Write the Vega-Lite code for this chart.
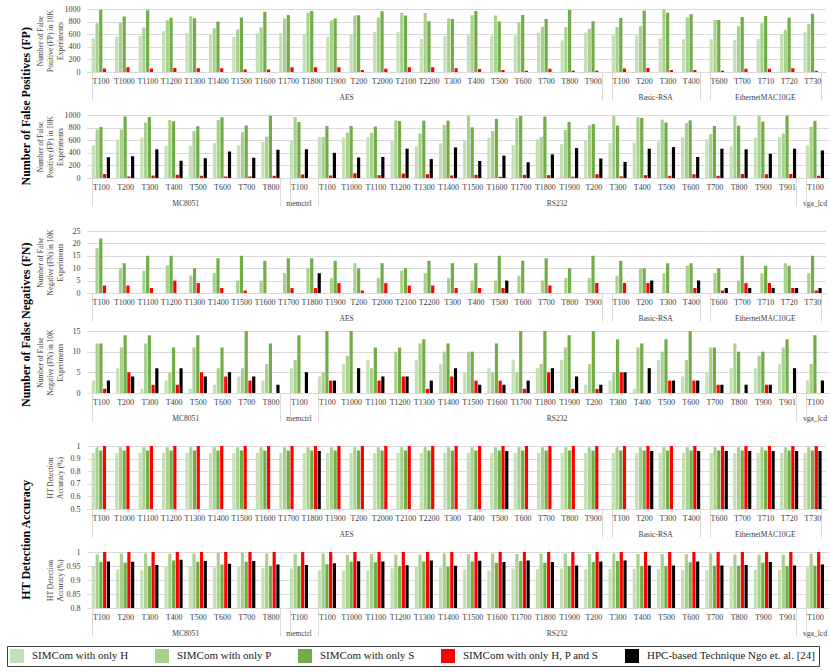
{
"$schema": "https://vega.github.io/schema/vega-lite/v6.json",
"padding": {"left": 6, "top": 5, "right": 4, "bottom": 2},
"background": "white",
"config": {
 "font": "Liberation Serif",
 "view": {"stroke": null},
 "axis": {"labelFont": "Liberation Serif", "titleFont": "Liberation Serif", "labelColor": "#404040", "titleColor": "#404040", "labelFontSize": 8, "titleFontSize": 7.5, "titleFontWeight": "normal", "titleLineHeight": 10},
 "axisX": {"labelAngle": 0, "domainColor": "#d9d9d9", "grid": false, "tickBand": "extent", "tickSize": 28, "labelPadding": -23, "title": null},
 "axisY": {"domain": false, "ticks": false, "gridColor": "#d9d9d9", "labelPadding": 7, "titlePadding": 0, "minExtent": 23, "maxExtent": 23},
 "header": {"labelFont": "Liberation Serif", "labelFontSize": 7.6, "labelColor": "#404040", "labelOrient": "bottom", "labelPadding": -7},
 "legend": {"orient": "none", "legendX": -80, "legendY": 637, "direction": "horizontal", "symbolType": "square", "symbolSize": 196, "labelFont": "Liberation Serif", "labelFontSize": 11, "labelColor": "#202020", "columnPadding": 26, "labelLimit": 400, "strokeColor": "#404040", "padding": 3, "symbolStrokeWidth": 0, "labelOffset": 8},
 "title": {"font": "Liberation Serif", "fontSize": 12, "fontWeight": "bold", "color": "black", "offset": 3}
},
"datasets": {
 "fp1": [
  {"b":"AES","t":"T100","H":530,"P":775,"S":990,"R":55},
  {"b":"AES","t":"T1000","H":565,"P":780,"S":880,"R":75},
  {"b":"AES","t":"T1100","H":570,"P":705,"S":980,"R":55},
  {"b":"AES","t":"T1200","H":650,"P":820,"S":860,"R":65},
  {"b":"AES","t":"T1300","H":620,"P":885,"S":855,"R":60},
  {"b":"AES","t":"T1400","H":600,"P":695,"S":800,"R":60},
  {"b":"AES","t":"T1500","H":555,"P":675,"S":865,"R":40},
  {"b":"AES","t":"T1600","H":615,"P":705,"S":955,"R":40},
  {"b":"AES","t":"T1700","H":620,"P":850,"S":905,"R":75},
  {"b":"AES","t":"T1800","H":605,"P":945,"S":970,"R":75},
  {"b":"AES","t":"T1900","H":560,"P":820,"S":850,"R":75},
  {"b":"AES","t":"T200","H":600,"P":895,"S":900,"R":30},
  {"b":"AES","t":"T2000","H":635,"P":865,"S":965,"R":50},
  {"b":"AES","t":"T2100","H":640,"P":940,"S":895,"R":75},
  {"b":"AES","t":"T2200","H":525,"P":935,"S":805,"R":75},
  {"b":"AES","t":"T300","H":575,"P":850,"S":840,"R":60},
  {"b":"AES","t":"T400","H":590,"P":900,"S":968,"R":47},
  {"b":"AES","t":"T500","H":575,"P":895,"S":800,"R":30},
  {"b":"AES","t":"T600","H":580,"P":795,"S":905,"R":20},
  {"b":"AES","t":"T700","H":625,"P":720,"S":842,"R":50},
  {"b":"AES","t":"T800","H":500,"P":715,"S":985,"R":20},
  {"b":"AES","t":"T900","H":625,"P":685,"S":805,"R":20},
  {"b":"Basic-RSA","t":"T100","H":585,"P":715,"S":858,"R":55},
  {"b":"Basic-RSA","t":"T200","H":580,"P":725,"S":975,"R":65},
  {"b":"Basic-RSA","t":"T300","H":530,"P":1000,"S":940,"R":30},
  {"b":"Basic-RSA","t":"T400","H":520,"P":865,"S":915,"R":30},
  {"b":"EthernetMAC10GE","t":"T600","H":520,"P":825,"S":825,"R":20},
  {"b":"EthernetMAC10GE","t":"T700","H":510,"P":725,"S":875,"R":50},
  {"b":"EthernetMAC10GE","t":"T710","H":525,"P":775,"S":890,"R":50},
  {"b":"EthernetMAC10GE","t":"T720","H":600,"P":670,"S":865,"R":60},
  {"b":"EthernetMAC10GE","t":"T730","H":635,"P":760,"S":925,"R":20}
 ],
 "fp2": [
  {"b":"MC8051","t":"T100","H":520,"P":770,"S":810,"R":65,"K":330},
  {"b":"MC8051","t":"T200","H":605,"P":770,"S":975,"R":25,"K":345},
  {"b":"MC8051","t":"T300","H":640,"P":880,"S":970,"R":40,"K":455},
  {"b":"MC8051","t":"T400","H":510,"P":920,"S":900,"R":50,"K":275},
  {"b":"MC8051","t":"T500","H":510,"P":745,"S":820,"R":35,"K":315},
  {"b":"MC8051","t":"T600","H":555,"P":920,"S":965,"R":25,"K":420},
  {"b":"MC8051","t":"T700","H":520,"P":725,"S":835,"R":25,"K":320},
  {"b":"MC8051","t":"T800","H":570,"P":655,"S":990,"R":35,"K":450},
  {"b":"memctrl","t":"T100","H":590,"P":970,"S":890,"R":55,"K":455},
  {"b":"RS232","t":"T100","H":650,"P":650,"S":825,"R":40,"K":400},
  {"b":"RS232","t":"T1000","H":640,"P":720,"S":825,"R":75,"K":325},
  {"b":"RS232","t":"T1100","H":645,"P":720,"S":815,"R":45,"K":335},
  {"b":"RS232","t":"T1200","H":590,"P":915,"S":905,"R":70,"K":465},
  {"b":"RS232","t":"T1300","H":505,"P":710,"S":910,"R":60,"K":300},
  {"b":"RS232","t":"T1400","H":550,"P":840,"S":910,"R":40,"K":485},
  {"b":"RS232","t":"T1500","H":595,"P":985,"S":805,"R":50,"K":270},
  {"b":"RS232","t":"T1600","H":640,"P":745,"S":940,"R":20,"K":355},
  {"b":"RS232","t":"T1700","H":520,"P":950,"S":985,"R":50,"K":250},
  {"b":"RS232","t":"T1800","H":615,"P":650,"S":975,"R":45,"K":375},
  {"b":"RS232","t":"T1900","H":535,"P":765,"S":890,"R":20,"K":475},
  {"b":"RS232","t":"T200","H":595,"P":835,"S":855,"R":60,"K":310},
  {"b":"RS232","t":"T300","H":555,"P":990,"S":830,"R":25,"K":255},
  {"b":"RS232","t":"T400","H":565,"P":965,"S":955,"R":45,"K":465},
  {"b":"RS232","t":"T500","H":580,"P":925,"S":880,"R":35,"K":490},
  {"b":"RS232","t":"T600","H":645,"P":870,"S":915,"R":60,"K":335},
  {"b":"RS232","t":"T700","H":615,"P":695,"S":825,"R":35,"K":465},
  {"b":"RS232","t":"T800","H":500,"P":990,"S":830,"R":65,"K":455},
  {"b":"RS232","t":"T900","H":640,"P":990,"S":895,"R":60,"K":385},
  {"b":"RS232","t":"T901","H":645,"P":705,"S":990,"R":65,"K":465},
  {"b":"vga_lcd","t":"T100","H":520,"P":815,"S":910,"R":35,"K":435}
 ],
 "fn1": [
  {"b":"AES","t":"T100","P":18,"S":22,"R":3},
  {"b":"AES","t":"T1000","P":10,"S":12,"R":3},
  {"b":"AES","t":"T1100","P":9,"S":15,"R":2},
  {"b":"AES","t":"T1200","P":11,"S":15,"R":5},
  {"b":"AES","t":"T1300","P":7,"S":10,"R":4},
  {"b":"AES","t":"T1400","P":8,"S":14,"R":2},
  {"b":"AES","t":"T1500","P":5,"S":15,"R":1},
  {"b":"AES","t":"T1600","P":5,"S":13,"R":0},
  {"b":"AES","t":"T1700","P":8,"S":14,"R":2},
  {"b":"AES","t":"T1800","P":10,"S":14,"R":2,"K":8},
  {"b":"AES","t":"T1900","P":6,"S":13,"R":4},
  {"b":"AES","t":"T200","P":12,"S":10,"R":1},
  {"b":"AES","t":"T2000","P":6,"S":12,"R":4},
  {"b":"AES","t":"T2100","P":9,"S":10,"R":3},
  {"b":"AES","t":"T2200","P":8,"S":13,"R":3},
  {"b":"AES","t":"T300","P":6,"S":12,"R":2},
  {"b":"AES","t":"T400","P":5,"S":12,"R":2},
  {"b":"AES","t":"T500","P":5,"S":15,"R":2,"K":5},
  {"b":"AES","t":"T600","P":7,"S":13},
  {"b":"AES","t":"T700","P":5,"S":14,"R":3},
  {"b":"AES","t":"T800","P":6,"S":10},
  {"b":"AES","t":"T900","P":6,"S":15,"R":4},
  {"b":"Basic-RSA","t":"T100","P":7,"S":13,"R":4},
  {"b":"Basic-RSA","t":"T200","P":10,"S":10,"R":4,"K":5},
  {"b":"Basic-RSA","t":"T300","P":8,"S":12},
  {"b":"Basic-RSA","t":"T400","P":11,"S":12,"R":2,"K":5},
  {"b":"EthernetMAC10GE","t":"T600","P":8,"S":10,"R":1,"K":2},
  {"b":"EthernetMAC10GE","t":"T700","P":5,"S":15,"R":4,"K":2},
  {"b":"EthernetMAC10GE","t":"T710","P":8,"S":11,"R":4,"K":2},
  {"b":"EthernetMAC10GE","t":"T720","P":12,"S":11,"R":2,"K":2},
  {"b":"EthernetMAC10GE","t":"T730","P":8,"S":15,"R":1,"K":2}
 ],
 "fn2": [
  {"b":"MC8051","t":"T100","H":3,"P":12,"S":12,"R":1,"K":3},
  {"b":"MC8051","t":"T200","H":6,"P":11,"S":14,"R":5,"K":4},
  {"b":"MC8051","t":"T300","H":1,"P":12,"S":14,"R":2,"K":6},
  {"b":"MC8051","t":"T400","H":3,"P":5,"S":11,"R":2,"K":6},
  {"b":"MC8051","t":"T500","H":1,"P":11,"S":14,"R":5,"K":4},
  {"b":"MC8051","t":"T600","H":2,"P":6,"S":11,"R":4,"K":5},
  {"b":"MC8051","t":"T700","H":4,"P":6,"S":15,"R":3,"K":4},
  {"b":"MC8051","t":"T800","H":3,"P":7,"S":12,"R":0,"K":2},
  {"b":"memctrl","t":"T100","H":6,"P":8,"S":14,"R":0,"K":5},
  {"b":"RS232","t":"T100","H":4,"P":5,"S":15,"R":3,"K":3},
  {"b":"RS232","t":"T1000","H":7,"P":9,"S":15,"R":0,"K":6},
  {"b":"RS232","t":"T1100","H":8,"P":6,"S":11,"R":3,"K":4},
  {"b":"RS232","t":"T1200","H":0,"P":10,"S":11,"R":4,"K":4},
  {"b":"RS232","t":"T1300","H":8,"P":12,"S":13,"R":1,"K":3},
  {"b":"RS232","t":"T1400","H":7,"P":10,"S":12,"R":4,"K":6},
  {"b":"RS232","t":"T1500","H":5,"P":10,"S":10,"R":3,"K":2},
  {"b":"RS232","t":"T1600","H":6,"P":5,"S":12,"R":3,"K":2},
  {"b":"RS232","t":"T1700","H":8,"P":5,"S":15,"R":1,"K":3},
  {"b":"RS232","t":"T1800","H":6,"P":7,"S":15,"R":5,"K":6},
  {"b":"RS232","t":"T1900","H":8,"P":11,"S":14,"R":1,"K":4},
  {"b":"RS232","t":"T200","H":2,"P":7,"S":15,"R":1,"K":2},
  {"b":"RS232","t":"T300","H":3,"P":5,"S":13,"R":5,"K":5},
  {"b":"RS232","t":"T400","H":1,"P":11,"S":12,"R":0,"K":6},
  {"b":"RS232","t":"T500","H":8,"P":10,"S":13,"R":3,"K":3},
  {"b":"RS232","t":"T600","H":4,"P":8,"S":15,"R":3,"K":3},
  {"b":"RS232","t":"T700","H":5,"P":11,"S":11,"R":2,"K":2},
  {"b":"RS232","t":"T800","H":6,"P":12,"S":10,"R":0,"K":2},
  {"b":"RS232","t":"T900","H":6,"P":9,"S":10,"R":2,"K":2},
  {"b":"RS232","t":"T901","H":7,"P":11,"S":13,"R":0,"K":6},
  {"b":"vga_lcd","t":"T100","H":3,"P":7,"S":14,"R":0,"K":3}
 ],
 "ac1": [
  {"b":"AES","t":"T100","H":0.945,"P":0.99,"S":0.965,"R":1},
  {"b":"AES","t":"T1000","H":0.945,"P":0.99,"S":0.965,"R":1},
  {"b":"AES","t":"T1100","H":0.945,"P":0.99,"S":0.965,"R":1},
  {"b":"AES","t":"T1200","H":0.945,"P":0.99,"S":0.965,"R":1},
  {"b":"AES","t":"T1300","H":0.945,"P":0.99,"S":0.965,"R":1},
  {"b":"AES","t":"T1400","H":0.945,"P":0.99,"S":0.965,"R":1},
  {"b":"AES","t":"T1500","H":0.945,"P":0.99,"S":0.965,"R":1},
  {"b":"AES","t":"T1600","H":0.945,"P":0.99,"S":0.965,"R":1},
  {"b":"AES","t":"T1700","H":0.945,"P":0.99,"S":0.965,"R":1},
  {"b":"AES","t":"T1800","H":0.945,"P":0.99,"S":0.965,"R":1,"K":0.96},
  {"b":"AES","t":"T1900","H":0.945,"P":0.99,"S":0.965,"R":1},
  {"b":"AES","t":"T200","H":0.945,"P":0.99,"S":0.965,"R":1},
  {"b":"AES","t":"T2000","H":0.945,"P":0.99,"S":0.965,"R":1},
  {"b":"AES","t":"T2100","H":0.945,"P":0.99,"S":0.965,"R":1},
  {"b":"AES","t":"T2200","H":0.945,"P":0.99,"S":0.965,"R":1},
  {"b":"AES","t":"T300","H":0.945,"P":0.99,"S":0.965,"R":1},
  {"b":"AES","t":"T400","H":0.945,"P":0.99,"S":0.965,"R":1},
  {"b":"AES","t":"T500","H":0.945,"P":0.99,"S":0.965,"R":1,"K":0.96},
  {"b":"AES","t":"T600","H":0.945,"P":0.99,"S":0.965,"R":1},
  {"b":"AES","t":"T700","H":0.945,"P":0.99,"S":0.965,"R":1},
  {"b":"AES","t":"T800","H":0.945,"P":0.99,"S":0.965,"R":1},
  {"b":"AES","t":"T900","H":0.945,"P":0.99,"S":0.965,"R":1},
  {"b":"Basic-RSA","t":"T100","H":0.945,"P":0.99,"S":0.965,"R":1},
  {"b":"Basic-RSA","t":"T200","H":0.945,"P":0.99,"S":0.965,"R":1,"K":0.96},
  {"b":"Basic-RSA","t":"T300","H":0.945,"P":0.99,"S":0.965,"R":1},
  {"b":"Basic-RSA","t":"T400","H":0.945,"P":0.99,"S":0.965,"R":1,"K":0.96},
  {"b":"EthernetMAC10GE","t":"T600","H":0.945,"P":0.99,"S":0.965,"R":1,"K":0.96},
  {"b":"EthernetMAC10GE","t":"T700","H":0.945,"P":0.99,"S":0.965,"R":1,"K":0.96},
  {"b":"EthernetMAC10GE","t":"T710","H":0.945,"P":0.99,"S":0.965,"R":1,"K":0.96},
  {"b":"EthernetMAC10GE","t":"T720","H":0.945,"P":0.99,"S":0.965,"R":1,"K":0.96},
  {"b":"EthernetMAC10GE","t":"T730","H":0.945,"P":0.99,"S":0.965,"R":1,"K":0.96}
 ],
 "ac2": [
  {"b":"MC8051","t":"T100","H":0.948,"P":0.992,"S":0.964,"R":1,"K":0.966},
  {"b":"MC8051","t":"T200","H":0.938,"P":0.995,"S":0.962,"R":1,"K":0.965},
  {"b":"MC8051","t":"T300","H":0.935,"P":0.995,"S":0.950,"R":1,"K":0.954},
  {"b":"MC8051","t":"T400","H":0.948,"P":0.994,"S":0.970,"R":1,"K":0.972},
  {"b":"MC8051","t":"T500","H":0.948,"P":0.995,"S":0.965,"R":1,"K":0.968},
  {"b":"MC8051","t":"T600","H":0.945,"P":0.996,"S":0.955,"R":1,"K":0.958},
  {"b":"MC8051","t":"T700","H":0.946,"P":0.998,"S":0.965,"R":1,"K":0.968},
  {"b":"MC8051","t":"T800","H":0.942,"P":0.995,"S":0.951,"R":1,"K":0.955},
  {"b":"memctrl","t":"T100","H":0.941,"P":0.992,"S":0.950,"R":1,"K":0.954},
  {"b":"RS232","t":"T100","H":0.935,"P":0.995,"S":0.956,"R":1,"K":0.960},
  {"b":"RS232","t":"T1000","H":0.935,"P":0.990,"S":0.965,"R":1,"K":0.967},
  {"b":"RS232","t":"T1100","H":0.935,"P":0.994,"S":0.963,"R":1,"K":0.966},
  {"b":"RS232","t":"T1200","H":0.941,"P":0.991,"S":0.950,"R":1,"K":0.953},
  {"b":"RS232","t":"T1300","H":0.948,"P":0.991,"S":0.966,"R":1,"K":0.970},
  {"b":"RS232","t":"T1400","H":0.945,"P":0.995,"S":0.948,"R":1,"K":0.951},
  {"b":"RS232","t":"T1500","H":0.938,"P":0.992,"S":0.966,"R":1,"K":0.969},
  {"b":"RS232","t":"T1600","H":0.935,"P":0.995,"S":0.962,"R":1,"K":0.964},
  {"b":"RS232","t":"T1700","H":0.941,"P":0.993,"S":0.968,"R":1,"K":0.970},
  {"b":"RS232","t":"T1800","H":0.938,"P":0.994,"S":0.962,"R":1,"K":0.964},
  {"b":"RS232","t":"T1900","H":0.941,"P":0.995,"S":0.950,"R":1,"K":0.952},
  {"b":"RS232","t":"T200","H":0.938,"P":0.993,"S":0.964,"R":1,"K":0.966},
  {"b":"RS232","t":"T300","H":0.939,"P":0.995,"S":0.968,"R":1,"K":0.970},
  {"b":"RS232","t":"T400","H":0.939,"P":0.993,"S":0.950,"R":1,"K":0.952},
  {"b":"RS232","t":"T500","H":0.939,"P":0.993,"S":0.950,"R":1,"K":0.952},
  {"b":"RS232","t":"T600","H":0.935,"P":0.992,"S":0.963,"R":1,"K":0.966},
  {"b":"RS232","t":"T700","H":0.936,"P":0.995,"S":0.951,"R":1,"K":0.952},
  {"b":"RS232","t":"T800","H":0.946,"P":0.991,"S":0.951,"R":1,"K":0.954},
  {"b":"RS232","t":"T900","H":0.936,"P":0.991,"S":0.962,"R":1,"K":0.964},
  {"b":"RS232","t":"T901","H":0.936,"P":0.991,"S":0.950,"R":1,"K":0.952},
  {"b":"vga_lcd","t":"T100","H":0.946,"P":0.994,"S":0.951,"R":1,"K":0.955}
 ]
},
"spacing": 19,
"vconcat": [
 {
  "title": {"text": "Number of False Positives (FP)", "orient": "left", "anchor": "middle"},
  "spacing": 9,
  "vconcat": [
   {
    "data": {"name": "fp1"},
    "transform": [{"fold": ["H","P","S","R","K"], "as": ["s","v"]}],
    "facet": {"column": {"field": "b", "type": "nominal", "title": null, "sort": ["AES","Basic-RSA","EthernetMAC10GE"], "header": {"labelOrient": "bottom", "labelPadding": -7}}},
    "spacing": 0,
    "resolve": {"scale": {"x": "independent"}},
    "spec": {
     "width": {"step": 3.625}, "height": 63,
     "mark": {"type": "bar", "clip": true},
     "encoding": {
      "x": {"field": "t", "type": "nominal", "scale": {"paddingInner": 0.25}, "axis": {"tickColor": {"condition": {"test": "datum.index === 1 || datum.index === -1", "value": "#d9d9d9"}, "value": "transparent"}}},
      "xOffset": {"field": "s", "type": "nominal", "scale": {"domain": ["H","P","S","R","K"], "paddingInner": 0.15}},
      "y": {"field": "v", "type": "quantitative", "title": ["Number of False", "Positive (FP) in 10K", "Experiments"], "scale": {"domain": [0, 1000]}, "axis": {"values": [0,200,400,600,800,1000], "format": "d"}},
      "color": {"field": "s", "type": "nominal", "scale": {"domain": ["H","P","S","R","K"], "range": ["#c5e0b4","#a9d18e","#70ad47","#ff0000","#000000"]}, "legend": {"title": null, "labelExpr": "{'H':'SIMCom with only H','P':'SIMCom with only P','S':'SIMCom with only S','R':'SIMCom with only H, P and S','K':'HPC-based Technique Ngo et. al. [24]'}[datum.label]"}}
     }
    }
   },
   {
    "data": {"name": "fp2"},
    "transform": [{"fold": ["H","P","S","R","K"], "as": ["s","v"]}],
    "facet": {"column": {"field": "b", "type": "nominal", "title": null, "sort": ["MC8051","memctrl","RS232","vga_lcd"], "header": {"labelOrient": "bottom", "labelPadding": -7}}},
    "spacing": 0,
    "resolve": {"scale": {"x": "independent"}},
    "spec": {
     "width": {"step": 3.745}, "height": 63,
     "mark": {"type": "bar", "clip": true},
     "encoding": {
      "x": {"field": "t", "type": "nominal", "scale": {"paddingInner": 0.25}, "axis": {"tickColor": {"condition": {"test": "datum.index === 1 || datum.index === -1", "value": "#d9d9d9"}, "value": "transparent"}}},
      "xOffset": {"field": "s", "type": "nominal", "scale": {"domain": ["H","P","S","R","K"], "paddingInner": 0.15}},
      "y": {"field": "v", "type": "quantitative", "title": ["Number of False", "Positive (FP) in 10K", "Experiments"], "scale": {"domain": [0, 1000]}, "axis": {"values": [0,200,400,600,800,1000], "format": "d"}},
      "color": {"field": "s", "type": "nominal", "scale": {"domain": ["H","P","S","R","K"], "range": ["#c5e0b4","#a9d18e","#70ad47","#ff0000","#000000"]}, "legend": {"title": null}}
     }
    }
   }
  ]
 },
 {
  "title": {"text": "Number of False Negatives (FN)", "orient": "left", "anchor": "middle"},
  "spacing": 4,
  "vconcat": [
   {
    "data": {"name": "fn1"},
    "transform": [{"fold": ["H","P","S","R","K"], "as": ["s","v"]}],
    "facet": {"column": {"field": "b", "type": "nominal", "title": null, "sort": ["AES","Basic-RSA","EthernetMAC10GE"], "header": {"labelOrient": "bottom", "labelPadding": -7}}},
    "spacing": 0,
    "resolve": {"scale": {"x": "independent"}},
    "spec": {
     "width": {"step": 3.625}, "height": 62,
     "mark": {"type": "bar", "clip": true},
     "encoding": {
      "x": {"field": "t", "type": "nominal", "scale": {"paddingInner": 0.25}, "axis": {"tickColor": {"condition": {"test": "datum.index === 1 || datum.index === -1", "value": "#d9d9d9"}, "value": "transparent"}}},
      "xOffset": {"field": "s", "type": "nominal", "scale": {"domain": ["H","P","S","R","K"], "paddingInner": 0.15}},
      "y": {"field": "v", "type": "quantitative", "title": ["Number of False", "Negative (FN) in 10K", "Experiments"], "scale": {"domain": [0, 25]}, "axis": {"values": [0,5,10,15,20,25], "format": "d"}},
      "color": {"field": "s", "type": "nominal", "scale": {"domain": ["H","P","S","R","K"], "range": ["#c5e0b4","#a9d18e","#70ad47","#ff0000","#000000"]}, "legend": {"title": null}}
     }
    }
   },
   {
    "data": {"name": "fn2"},
    "transform": [{"fold": ["H","P","S","R","K"], "as": ["s","v"]}],
    "facet": {"column": {"field": "b", "type": "nominal", "title": null, "sort": ["MC8051","memctrl","RS232","vga_lcd"], "header": {"labelOrient": "bottom", "labelPadding": -7}}},
    "spacing": 0,
    "resolve": {"scale": {"x": "independent"}},
    "spec": {
     "width": {"step": 3.745}, "height": 62,
     "mark": {"type": "bar", "clip": true},
     "encoding": {
      "x": {"field": "t", "type": "nominal", "scale": {"paddingInner": 0.25}, "axis": {"tickColor": {"condition": {"test": "datum.index === 1 || datum.index === -1", "value": "#d9d9d9"}, "value": "transparent"}}},
      "xOffset": {"field": "s", "type": "nominal", "scale": {"domain": ["H","P","S","R","K"], "paddingInner": 0.15}},
      "y": {"field": "v", "type": "quantitative", "title": ["Number of False", "Negative (FN) in 10K", "Experiments"], "scale": {"domain": [0, 15]}, "axis": {"values": [0,5,10,15], "format": "d"}},
      "color": {"field": "s", "type": "nominal", "scale": {"domain": ["H","P","S","R","K"], "range": ["#c5e0b4","#a9d18e","#70ad47","#ff0000","#000000"]}, "legend": {"title": null}}
     }
    }
   }
  ]
 },
 {
  "title": {"text": "HT Detection Accuracy", "orient": "left", "anchor": "middle"},
  "spacing": 9,
  "vconcat": [
   {
    "data": {"name": "ac1"},
    "transform": [{"fold": ["H","P","S","R","K"], "as": ["s","v"]}],
    "facet": {"column": {"field": "b", "type": "nominal", "title": null, "sort": ["AES","Basic-RSA","EthernetMAC10GE"], "header": {"labelOrient": "bottom", "labelPadding": -7}}},
    "spacing": 0,
    "resolve": {"scale": {"x": "independent"}},
    "spec": {
     "width": {"step": 3.625}, "height": 63,
     "mark": {"type": "bar", "clip": true},
     "encoding": {
      "x": {"field": "t", "type": "nominal", "scale": {"paddingInner": 0.25}, "axis": {"tickColor": {"condition": {"test": "datum.index === 1 || datum.index === -1", "value": "#d9d9d9"}, "value": "transparent"}}},
      "xOffset": {"field": "s", "type": "nominal", "scale": {"domain": ["H","P","S","R","K"], "paddingInner": 0.15}},
      "y": {"field": "v", "type": "quantitative", "title": ["", "HT Detection", "Accuracy (%)"], "scale": {"domain": [0.5, 1], "zero": false}, "axis": {"values": [0.5,0.6,0.7,0.8,0.9,1], "format": ".1~f"}},
      "color": {"field": "s", "type": "nominal", "scale": {"domain": ["H","P","S","R","K"], "range": ["#c5e0b4","#a9d18e","#70ad47","#ff0000","#000000"]}, "legend": {"title": null}}
     }
    }
   },
   {
    "data": {"name": "ac2"},
    "transform": [{"fold": ["H","P","S","R","K"], "as": ["s","v"]}],
    "facet": {"column": {"field": "b", "type": "nominal", "title": null, "sort": ["MC8051","memctrl","RS232","vga_lcd"], "header": {"labelOrient": "bottom", "labelPadding": -7}}},
    "spacing": 0,
    "resolve": {"scale": {"x": "independent"}},
    "spec": {
     "width": {"step": 3.745}, "height": 56,
     "mark": {"type": "bar", "clip": true},
     "encoding": {
      "x": {"field": "t", "type": "nominal", "scale": {"paddingInner": 0.25}, "axis": {"tickColor": {"condition": {"test": "datum.index === 1 || datum.index === -1", "value": "#d9d9d9"}, "value": "transparent"}}},
      "xOffset": {"field": "s", "type": "nominal", "scale": {"domain": ["H","P","S","R","K"], "paddingInner": 0.15}},
      "y": {"field": "v", "type": "quantitative", "title": ["", "HT Detection", "Accuracy (%)"], "scale": {"domain": [0.8, 1], "zero": false}, "axis": {"values": [0.8,0.85,0.9,0.95,1], "format": ".2~f"}},
      "color": {"field": "s", "type": "nominal", "scale": {"domain": ["H","P","S","R","K"], "range": ["#c5e0b4","#a9d18e","#70ad47","#ff0000","#000000"]}, "legend": {"title": null}}
     }
    }
   }
  ]
 }
]
}
